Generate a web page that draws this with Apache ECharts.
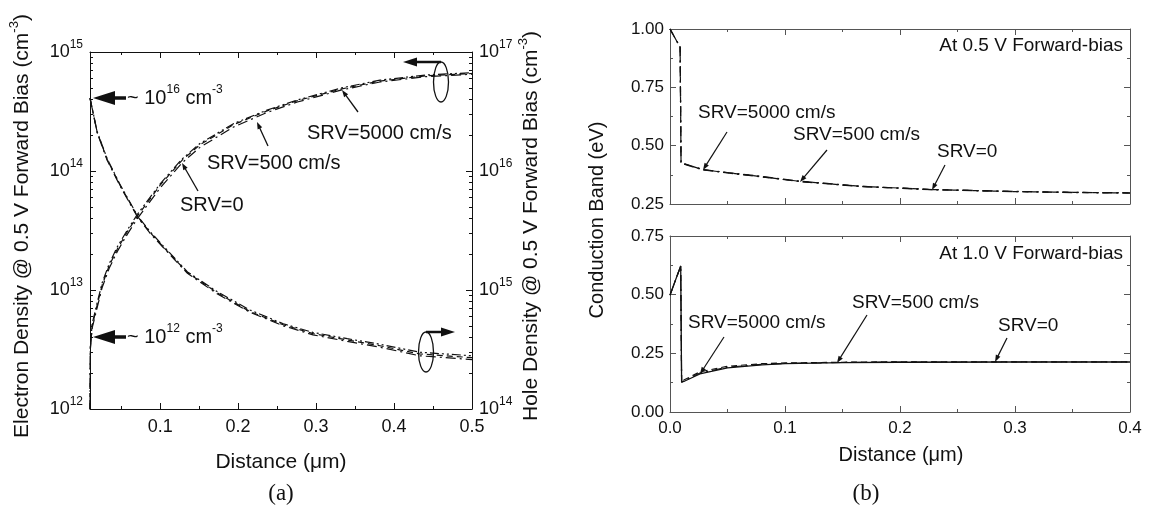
<!DOCTYPE html>
<html>
<head>
<meta charset="utf-8">
<script src="https://cdn.jsdelivr.net/npm/echarts@6/dist/echarts.min.js"></script>
<style>html,body{margin:0;background:#fff}#main{width:1152px;height:518px}</style>
</head>
<body>
<div id="main"></div>
<script>
// (a) electron density, left axis (cm^-3)
var distE = [0.01, 0.0105, 0.0128, 0.0192, 0.0256, 0.0346, 0.0449, 0.058, 0.071, 0.1, 0.128, 0.151, 0.194, 0.237, 0.276, 0.333, 0.382, 0.44, 0.5];
var elecSrv0    = [1.0e12, 3.2e12, 4.8e12, 7.1e12, 1.05e13, 1.52e13, 2.1e13, 2.95e13, 4.0e13, 7.2e13, 1.17e14, 1.58e14, 2.34e14, 3.1e14, 3.8e14, 4.8e14, 5.6e14, 6.2e14, 6.5e14];
var elecSrv500  = [1.0e12, 3.3e12, 5.0e12, 7.5e12, 1.1e13, 1.6e13, 2.2e13, 3.1e13, 4.2e13, 7.6e13, 1.23e14, 1.66e14, 2.45e14, 3.2e14, 3.9e14, 4.9e14, 5.7e14, 6.3e14, 6.6e14];
var elecSrv5000 = [1.0e12, 3.4e12, 5.2e12, 7.8e12, 1.15e13, 1.66e13, 2.3e13, 3.2e13, 4.35e13, 7.8e13, 1.26e14, 1.7e14, 2.5e14, 3.25e14, 3.95e14, 5.0e14, 5.8e14, 6.4e14, 6.7e14];

// (a) hole density, right axis (cm^-3)
var distH = [0.01, 0.0192, 0.032, 0.049, 0.071, 0.087, 0.106, 0.135, 0.173, 0.215, 0.258, 0.296, 0.34, 0.382, 0.433, 0.5];
var holeSrv0    = [4.1e16, 2.1e16, 1.23e16, 7.4e15, 4.1e15, 3.0e15, 2.2e15, 1.38e15, 9.3e14, 6.5e14, 5.0e14, 4.2e14, 3.7e14, 3.3e14, 2.8e14, 2.6e14];
var holeSrv500  = [4.1e16, 2.12e16, 1.25e16, 7.5e15, 4.15e15, 3.05e15, 2.23e15, 1.4e15, 9.5e14, 6.6e14, 5.1e14, 4.3e14, 3.8e14, 3.4e14, 2.9e14, 2.7e14];
var holeSrv5000 = [4.1e16, 2.14e16, 1.27e16, 7.6e15, 4.2e15, 3.1e15, 2.27e15, 1.42e15, 9.7e14, 6.8e14, 5.2e14, 4.4e14, 3.9e14, 3.5e14, 3.0e14, 2.8e14];

// (b) conduction band (eV)
var distB05 = [0, 0.0088, 0.0096, 0.0287, 0.05, 0.08, 0.113, 0.165, 0.228, 0.3, 0.35, 0.4];
var cb05Srv0    = [1.0, 0.922, 0.425, 0.396, 0.383, 0.366, 0.346, 0.325, 0.311, 0.303, 0.299, 0.297];
var cb05Srv500  = [1.0, 0.922, 0.426, 0.397, 0.384, 0.367, 0.347, 0.326, 0.312, 0.303, 0.3, 0.297];
var cb05Srv5000 = [1.0, 0.922, 0.427, 0.398, 0.385, 0.368, 0.348, 0.326, 0.312, 0.304, 0.3, 0.298];

var distB10 = [0, 0.0093, 0.0101, 0.012, 0.026, 0.05, 0.08, 0.1, 0.15, 0.2, 0.3, 0.4];
var cb10Srv0    = [0.498, 0.622, 0.127, 0.13, 0.162, 0.188, 0.201, 0.206, 0.21, 0.212, 0.213, 0.213];
var cb10Srv500  = [0.498, 0.622, 0.127, 0.132, 0.166, 0.191, 0.203, 0.207, 0.211, 0.213, 0.213, 0.213];
var cb10Srv5000 = [0.498, 0.622, 0.127, 0.136, 0.171, 0.195, 0.206, 0.209, 0.212, 0.214, 0.214, 0.214];

// tick values
var xTicksA = [0.1, 0.2, 0.3, 0.4, 0.5];
var xMinorA = [0.05, 0.15, 0.25, 0.35, 0.45];
var decadesLeft = [12, 13, 14, 15];
var decadesRight = [14, 15, 16, 17];

var ink = '#111';
var inkB = '#555';
var sans = '"Liberation Sans", Arial, sans-serif';

function logMinors(decades) {
  var out = [];
  for (var i = 0; i < decades.length - 1; i++)
    for (var k = 2; k <= 9; k++) out.push(decades[i] + Math.log10(k));
  return out;
}
function pairs(xs, ys, useLog) {
  return xs.map(function (x, i) { return [x, useLog ? Math.log10(ys[i]) : ys[i]]; });
}

var supRich = {
  b: { fontSize: 18, lineHeight: 26, fontFamily: sans, color: ink },
  s: { fontSize: 12, lineHeight: 12, verticalAlign: 'top', fontFamily: sans, color: ink }
};
function tenPow(v) { return '{b|10}{s|' + Math.round(v) + '}'; }

function axis(grid, pos, min, max, col) {
  return {
    type: 'value', gridIndex: grid, position: pos, min: min, max: max,
    axisLine: { show: true, onZero: false, lineStyle: { color: col, width: 1 } },
    splitLine: { show: false },
    axisLabel: { show: false },
    axisTick: { show: true, inside: true, length: 6, lineStyle: { color: col } }
  };
}
function minorAxis(grid, pos, min, max, col, vals) {
  var a = axis(grid, pos, min, max, col);
  a.axisLine.show = false;
  a.axisTick.length = 3;
  a.axisTick.customValues = vals;
  return a;
}

// x axes
var xa0 = axis(0, 'bottom', 0.01, 0.5, ink);
xa0.axisTick.customValues = xTicksA;
xa0.axisLabel = { show: true, customValues: xTicksA, margin: 9, fontSize: 18, fontFamily: sans, color: ink,
  formatter: function (v) { return v.toFixed(1); } };
var xa2 = axis(0, 'top', 0.01, 0.5, ink);
xa2.axisTick.customValues = xTicksA;

function bX(grid, pos, labels) {
  var a = axis(grid, pos, 0, 0.4, inkB);
  a.interval = 0.1;
  a.minorTick = { show: true, splitNumber: 2, length: 3, lineStyle: { color: inkB } };
  if (labels) a.axisLabel = { show: true, margin: 8, fontSize: 17, fontFamily: sans, color: ink,
    formatter: function (v) { return v.toFixed(1); } };
  return a;
}
function bY(grid, pos, min, max, labels) {
  var a = axis(grid, pos, min, max, inkB);
  a.interval = 0.25;
  a.minorTick = { show: true, splitNumber: 2, length: 3, lineStyle: { color: inkB } };
  if (labels) a.axisLabel = { show: true, margin: 6, fontSize: 17, fontFamily: sans, color: ink,
    formatter: function (v) { return v.toFixed(2); } };
  return a;
}

var ya0 = axis(0, 'left', 12, 15, ink);
ya0.interval = 1;
ya0.axisLabel = { show: true, margin: 7, formatter: tenPow, rich: supRich };
var ya2 = axis(0, 'right', 14, 17, ink);
ya2.interval = 1;
ya2.axisLabel = { show: true, margin: 7, formatter: tenPow, rich: supRich };

var xAxes = [
  xa0, minorAxis(0, 'bottom', 0.01, 0.5, ink, xMinorA), xa2, minorAxis(0, 'top', 0.01, 0.5, ink, xMinorA),
  bX(1, 'bottom', false), bX(1, 'top', false), bX(2, 'bottom', true), bX(2, 'top', false)
];
var yAxes = [
  ya0, minorAxis(0, 'left', 12, 15, ink, logMinors(decadesLeft)),
  ya2, minorAxis(0, 'right', 14, 17, ink, logMinors(decadesRight)),
  bY(1, 'left', 0.25, 1.0, true), bY(1, 'right', 0.25, 1.0, false),
  bY(2, 'left', 0, 0.75, true), bY(2, 'right', 0, 0.75, false)
];

var dashDot = [10, 4, 2, 4];
var dashed = [6, 4];
var dashDotDot = [9, 3, 2, 3, 2, 3];

function line(name, data, xi, yi, type, w) {
  return { name: name, type: 'line', xAxisIndex: xi, yAxisIndex: yi, data: data, showSymbol: false,
    symbol: 'none', lineStyle: { color: ink, width: w || 1.2, type: type }, silent: true };
}

var series = [
  line('SRV=0', pairs(distE, elecSrv0, true), 0, 0, dashDot),
  line('SRV=500 cm/s', pairs(distE, elecSrv500, true), 0, 0, dashed),
  line('SRV=5000 cm/s', pairs(distE, elecSrv5000, true), 0, 0, dashDotDot),
  line('SRV=0', pairs(distH, holeSrv0, true), 0, 2, dashDot),
  line('SRV=500 cm/s', pairs(distH, holeSrv500, true), 0, 2, dashed),
  line('SRV=5000 cm/s', pairs(distH, holeSrv5000, true), 0, 2, dashDotDot),
  line('SRV=0', pairs(distB05, cb05Srv0), 4, 4, dashDot),
  line('SRV=500 cm/s', pairs(distB05, cb05Srv500), 4, 4, dashed),
  line('SRV=5000 cm/s', pairs(distB05, cb05Srv5000), 4, 4, dashDot),
  line('SRV=0', pairs(distB10, cb10Srv0), 6, 6, 'solid', 1.3),
  line('SRV=500 cm/s', pairs(distB10, cb10Srv500), 6, 6, dashDot),
  line('SRV=5000 cm/s', pairs(distB10, cb10Srv5000), 6, 6, dashed)
];

// annotations
function txt(x, y, text, size, align, rot, family) {
  return { type: 'text', x: x, y: y, rotation: rot || 0, silent: true,
    style: { text: text, fill: ink, fontSize: size, fontFamily: family || sans, align: align || 'left', verticalAlign: 'middle',
      rich: { n: { fontSize: size, lineHeight: size + 8, fontFamily: family || sans, fill: ink },
              s: { fontSize: Math.round(size * 0.6), lineHeight: Math.round(size * 0.6), verticalAlign: 'top', fontFamily: sans, fill: ink } } } };
}
function arrow(x1, y1, x2, y2, hl, hw, lw) {
  var dx = x2 - x1, dy = y2 - y1, L = Math.sqrt(dx * dx + dy * dy), ux = dx / L, uy = dy / L;
  var bx = x2 - ux * hl, by = y2 - uy * hl, px = -uy, py = ux;
  return [
    { type: 'line', silent: true, shape: { x1: x1, y1: y1, x2: bx + ux * 1, y2: by + uy * 1 }, style: { stroke: ink, lineWidth: lw } },
    { type: 'polygon', silent: true, shape: { points: [[x2, y2], [bx + px * hw, by + py * hw], [bx - px * hw, by - py * hw]] }, style: { fill: ink } }
  ];
}
function ellipse(cx, cy, rx, ry) {
  return { type: 'ellipse', silent: true, shape: { cx: cx, cy: cy, rx: rx, ry: ry }, style: { fill: 'none', stroke: ink, lineWidth: 1.3 } };
}

var els = [];
// (a)
els.push(txt(22, 226, '{n|Electron Density @ 0.5 V Forward Bias (cm}{s|-3}{n|)}', 21, 'center', Math.PI / 2));
els.push(txt(531, 226, '{n|Hole Density @ 0.5 V Forward Bias (cm}{s|-3}{n|)}', 21, 'center', Math.PI / 2));
els.push(txt(281, 462, 'Distance (\u03bcm)', 21, 'center'));
els.push(txt(281, 494, '(a)', 23, 'center', 0, '"Liberation Serif", "DejaVu Serif", serif'));
els = els.concat(arrow(126, 98, 93, 98, 22, 7, 3.5));
els.push(txt(127, 98, '{n|~ 10}{s|16}{n| cm}{s|-3}', 20, 'left'));
els = els.concat(arrow(126, 337, 93, 337, 22, 7, 3.5));
els.push(txt(127, 337, '{n|~ 10}{s|12}{n| cm}{s|-3}', 20, 'left'));
els.push(txt(180, 205, 'SRV=0', 20, 'left'));
els = els.concat(arrow(198, 191, 182, 163, 7, 2.5, 1.3));
els.push(txt(207, 163, 'SRV=500 cm/s', 20, 'left'));
els = els.concat(arrow(268, 146, 257, 122, 7, 2.5, 1.3));
els.push(txt(307, 133, 'SRV=5000 cm/s', 20, 'left'));
els = els.concat(arrow(358, 112, 342, 90, 7, 2.5, 1.3));
els.push(ellipse(441, 82, 7.5, 20));
els = els.concat(arrow(441, 62, 403, 62, 14, 4.5, 2.5));
els.push(ellipse(426, 352, 7.5, 20));
els = els.concat(arrow(426, 332, 455, 332, 14, 4.5, 2.5));
// (b)
els.push(txt(597, 220, 'Conduction Band (eV)', 20, 'center', Math.PI / 2));
els.push(txt(901, 455, 'Distance (\u03bcm)', 20, 'center'));
els.push(txt(866, 494, '(b)', 23, 'center', 0, '"Liberation Serif", "DejaVu Serif", serif'));
els.push(txt(1123, 46, 'At 0.5 V Forward-bias', 19, 'right'));
els.push(txt(1123, 254, 'At 1.0 V Forward-bias', 19, 'right'));
els.push(txt(698, 113, 'SRV=5000 cm/s', 19, 'left'));
els = els.concat(arrow(727, 132, 703, 170, 7, 2.5, 1.2));
els.push(txt(793, 135, 'SRV=500 cm/s', 19, 'left'));
els = els.concat(arrow(827, 150, 800, 182, 7, 2.5, 1.2));
els.push(txt(937, 152, 'SRV=0', 19, 'left'));
els = els.concat(arrow(945, 165, 932, 190, 7, 2.5, 1.2));
els.push(txt(688, 323, 'SRV=5000 cm/s', 19, 'left'));
els = els.concat(arrow(724, 337, 700, 374, 7, 2.5, 1.2));
els.push(txt(852, 303, 'SRV=500 cm/s', 19, 'left'));
els = els.concat(arrow(867, 315, 837, 363, 7, 2.5, 1.2));
els.push(txt(998, 326, 'SRV=0', 19, 'left'));
els = els.concat(arrow(1007, 338, 995, 362, 7, 2.5, 1.2));

var chart = echarts.init(document.getElementById('main'), null, { renderer: 'canvas' });
chart.setOption({
  animation: false,
  backgroundColor: '#fff',
  grid: [
    { left: 90, top: 52, width: 382, height: 357 },
    { left: 670, top: 29, width: 460, height: 175 },
    { left: 670, top: 236, width: 460, height: 176 }
  ],
  xAxis: xAxes,
  yAxis: yAxes,
  series: series,
  graphic: { elements: els }
});
</script>
</body>
</html>
